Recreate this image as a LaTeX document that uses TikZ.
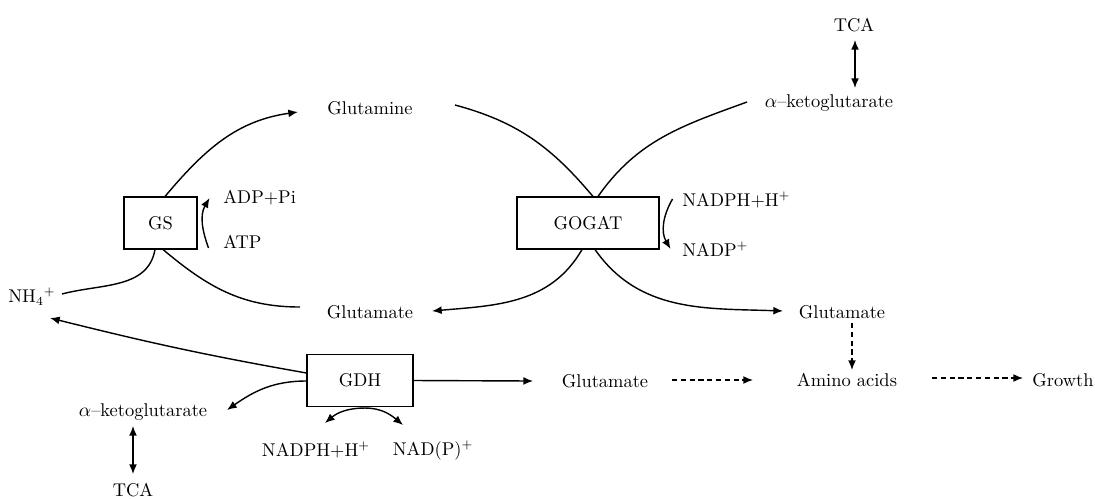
\documentclass[tikz,border=0pt]{standalone}
\usepackage{tikz}
\usetikzlibrary{arrows.meta}
\usetikzlibrary{calc}
\usetikzlibrary{positioning}

\begin{document}
\begin{tikzpicture}[x=0.02cm,y=0.02cm,
    enzyme/.style={draw,semithick,rectangle,minimum height=1.04cm,inner sep=0pt},
    metab/.style={inner sep=0pt,font=\fontsize{10.5}{12}\selectfont},
    >={Latex[length=5.5pt,width=4.5pt]}]

  \useasboundingbox (0,0) rectangle (1095,-498);

  % enzymes
  \node [enzyme,metab,minimum width=1.46cm] (GS) at (160.5,-223) {GS};
  \node [enzyme,metab,minimum width=2.84cm] (GOGAT) at (588,-223) {GOGAT};
  \node [enzyme,metab,minimum width=2.12cm] (GDH) at (360,-380.5) {GDH};

  % metabolites
  \node [metab] (TCAtop) at (854,-25) {TCA};
  \node [metab] (KGtop) at (829,-103) {$\alpha$--ketoglutarate};
  \node [metab] (Gln) at (370,-108) {Glutamine};
  \node [metab,anchor=west] (ADP) at (223,-198) {ADP+Pi};
  \node [metab,anchor=west] (ATP) at (223,-242) {ATP};
  \node [metab,anchor=west] (NADPHa) at (682,-200) {NADPH+H$^+$};
  \node [metab,anchor=west] (NADPa) at (682,-249) {NADP$^+$};
  \node [metab] (NH4) at (32,-297) {NH$_4{}^+$};
  \node [metab] (GluL) at (370,-312) {Glutamate};
  \node [metab] (GluR) at (842,-312) {Glutamate};
  \node [metab] (GluM) at (605,-381) {Glutamate};
  \node [metab] (AA) at (847,-380) {Amino acids};
  \node [metab] (Growth) at (1063,-380) {Growth};
  \node [metab] (KGbot) at (143,-412) {$\alpha$--ketoglutarate};
  \node [metab] (TCAbot) at (133,-490) {TCA};
  \node [metab] (NADPHb) at (316,-450) {NADPH+H$^+$};
  \node [metab] (NADPb) at (433,-450) {NAD(P)$^+$};

  % GS / GOGAT cycle
  \path [thick,->]
    ($(GS.north)+(4.5,0)$) edge [out=50,in=188] ($(Gln)+(-72,-4)$)
    ($(GOGAT.south)+(-6,0)$) edge [out=240,in=5] ($(GluL)+(62,1)$)
    ($(GOGAT.south)+(7,0)$) edge [out=-55,in=178] ($(GluR)+(-59,1)$);

  \path [thick]
    ($(Gln)+(85,3)$) edge [out=-15,in=130] ($(GOGAT.north)+(5,0)$)
    ($(KGtop)+(-82,1)$) edge [out=200,in=55] ($(GOGAT.north)+(10,0)$)
    ($(GS.south)+(-5.5,0)$) edge [out=-100,in=15] ($(NH4)+(30,3)$)
    ($(GS.south)+(2.5,0)$) edge [out=-40,in=180] ($(GluL)+(-70,5)$);

  % cofactors
  \path [thick,->]
    ($(GS.east)+(11,-25)$) edge [out=110,in=240] ($(GS.east)+(12,25)$)
    ($(GOGAT.east)+(13,24)$) edge [out=240,in=120] ($(GOGAT.east)+(11,-26)$)
    ($(GDH.south)+(5,-1)$) edge [out=180,in=40] ($(NADPHb)+(9,27)$)
    ($(GDH.south)+(5,-1)$) edge [out=0,in=140] ($(NADPb)+(-30,25)$);

  % GDH
  \path [thick,->]
    ($(GDH.west)+(0,7.5)$) edge [out=170,in=-14] ($(NH4)+(18,-21)$)
    ($(GDH.west)+(0,-0.5)$) edge [out=180,in=35] ($(KGbot)+(84,2)$)
    (GDH.east) edge ($(GluM)+(-72,0)$);

  \path [thick,->,dash pattern=on 3pt off 2pt]
    ($(GluM)+(67,1)$) edge ($(AA)+(-94,0)$)
    ($(AA)+(85,2)$) edge ($(Growth)+(-40,2)$)
    ($(GluR)+(10,-11)$) edge ($(AA)+(5,10)$);

  % TCA exchange
  \path [thick,<->]
    ($(TCAtop)+(1,-15)$) edge ($(KGtop)+(26,15)$)
    ($(KGbot)+(-10,-14)$) edge ($(TCAbot)+(0,16)$);

\end{tikzpicture}
\end{document}
